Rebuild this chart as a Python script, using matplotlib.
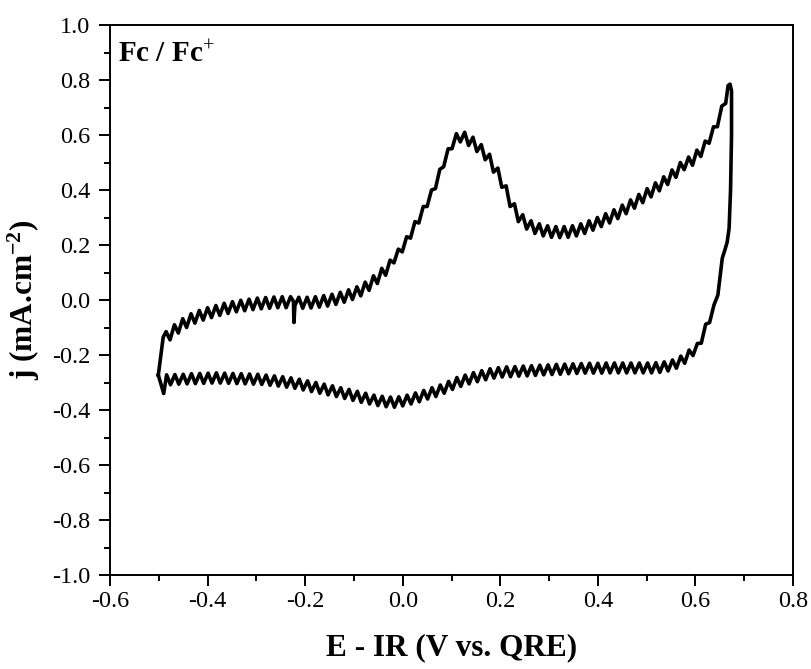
import numpy as np
import matplotlib
matplotlib.use("Agg")
import matplotlib.pyplot as plt
from matplotlib.ticker import MultipleLocator

# ---------------- STYLE ----------------
plt.rcParams['font.family'] = ['Liberation Serif', 'DejaVu Serif']
plt.rcParams['mathtext.fontset'] = 'custom'
plt.rcParams['mathtext.rm'] = 'Liberation Serif'
plt.rcParams['mathtext.bf'] = 'Liberation Serif:bold'
plt.rcParams['mathtext.it'] = 'Liberation Serif:italic'
plt.rcParams['axes.unicode_minus'] = False

# ---------------- DATA (read off the CV, potential in mV, j in mA/cm2) ----------------
# anodic sweep: left turn -> oxidation peak -> right vertex
upper_mv = [
    -501, -491, -485, -477, -468, -460, -451, -443, -434, -426,
    -417, -409, -400, -392, -383, -375, -366, -358, -349, -341,
    -332, -324, -315, -307, -298, -290, -281, -273, -264, -256,
    -247, -239, -230, -224, -223, -221, -213, -205, -196, -188,
    -179, -171, -162, -154, -145, -137, -128, -120, -111, -103,
    -94, -86, -77, -69, -60, -52, -43, -35, -26, -18,
    -9, -1, 8, 16, 25, 33, 42, 50, 59, 67,
    76, 84, 93, 101, 110, 118, 127, 135, 144, 152,
    161, 169, 178, 186, 195, 203, 212, 220, 229, 237,
    246, 254, 263, 271, 280, 288, 297, 305, 314, 322,
    331, 339, 348, 356, 365, 373, 382, 390, 399, 407,
    416, 424, 433, 441, 450, 458, 467, 475, 484, 492,
    501, 509, 518, 526, 535, 543, 552, 560, 569, 577,
    586, 594, 603, 611, 620, 628, 637, 645, 654, 662,
    667, 671, 674, 674, 672, 669, 665, 660,
]
upper_j = [
    -0.273, -0.135, -0.115, -0.145, -0.090, -0.120, -0.068, -0.100, -0.050, -0.084,
    -0.038, -0.073, -0.028, -0.064, -0.020, -0.056, -0.012, -0.049, -0.006, -0.043,
    -0.001, -0.039, 0.003, -0.035, 0.007, -0.032, 0.009, -0.030, 0.011, -0.028,
    0.012, -0.028, 0.012, -0.005, -0.082, -0.020, 0.010, -0.030, 0.010, -0.029,
    0.012, -0.026, 0.016, -0.022, 0.021, -0.016, 0.028, -0.008, 0.037, 0.002,
    0.048, 0.015, 0.065, 0.035, 0.088, 0.060, 0.115, 0.090, 0.145, 0.135,
    0.185, 0.175, 0.230, 0.225, 0.285, 0.280, 0.340, 0.340, 0.400, 0.405,
    0.475, 0.485, 0.550, 0.550, 0.605, 0.575, 0.610, 0.562, 0.592, 0.540,
    0.565, 0.510, 0.530, 0.465, 0.480, 0.410, 0.415, 0.340, 0.350, 0.285,
    0.310, 0.258, 0.288, 0.242, 0.277, 0.233, 0.270, 0.228, 0.267, 0.227,
    0.267, 0.228, 0.270, 0.233, 0.277, 0.242, 0.288, 0.254, 0.300, 0.267,
    0.314, 0.280, 0.328, 0.296, 0.345, 0.314, 0.364, 0.334, 0.384, 0.354,
    0.405, 0.375, 0.426, 0.397, 0.448, 0.420, 0.473, 0.446, 0.500, 0.474,
    0.520, 0.490, 0.545, 0.522, 0.578, 0.570, 0.630, 0.630, 0.705, 0.715,
    0.780, 0.785, 0.760, 0.600, 0.400, 0.260, 0.210, 0.180,
]

# cathodic sweep: right vertex -> reduction wave -> back to left turn
lower_mv = [
    655, 646, 638, 629, 621, 612, 604, 595, 587, 578,
    570, 561, 553, 544, 536, 527, 519, 510, 502, 493,
    485, 476, 468, 459, 451, 442, 434, 425, 417, 408,
    400, 391, 383, 374, 366, 357, 349, 340, 332, 323,
    315, 306, 298, 289, 281, 272, 264, 255, 247, 238,
    230, 221, 213, 204, 196, 187, 179, 170, 162, 153,
    145, 136, 128, 119, 111, 102, 94, 85, 77, 68,
    60, 51, 43, 34, 26, 17, 9, 0, -8, -17,
    -25, -34, -42, -51, -59, -68, -76, -85, -93, -102,
    -110, -119, -127, -136, -144, -153, -161, -170, -178, -187,
    -195, -204, -212, -221, -229, -238, -246, -255, -263, -272,
    -280, -289, -297, -306, -314, -323, -331, -340, -348, -357,
    -365, -374, -382, -391, -399, -408, -416, -425, -433, -442,
    -450, -459, -467, -476, -484, -490, -501,
]
lower_j = [
    0.152, 0.018, -0.018, -0.082, -0.088, -0.157, -0.158, -0.202, -0.182, -0.230,
    -0.204, -0.248, -0.218, -0.258, -0.225, -0.263, -0.228, -0.265, -0.229, -0.265,
    -0.229, -0.265, -0.229, -0.265, -0.229, -0.265, -0.229, -0.265, -0.229, -0.266,
    -0.230, -0.266, -0.230, -0.266, -0.231, -0.267, -0.232, -0.268, -0.233, -0.270,
    -0.234, -0.271, -0.236, -0.272, -0.237, -0.274, -0.239, -0.276, -0.240, -0.277,
    -0.242, -0.279, -0.243, -0.280, -0.246, -0.284, -0.250, -0.290, -0.257, -0.297,
    -0.264, -0.305, -0.273, -0.314, -0.282, -0.325, -0.296, -0.339, -0.309, -0.351,
    -0.319, -0.360, -0.329, -0.370, -0.338, -0.378, -0.346, -0.385, -0.352, -0.390,
    -0.353, -0.388, -0.350, -0.384, -0.346, -0.378, -0.339, -0.372, -0.332, -0.365,
    -0.325, -0.358, -0.319, -0.351, -0.312, -0.345, -0.306, -0.339, -0.300, -0.333,
    -0.294, -0.327, -0.288, -0.321, -0.283, -0.317, -0.279, -0.313, -0.276, -0.310,
    -0.273, -0.307, -0.270, -0.306, -0.269, -0.305, -0.268, -0.304, -0.267, -0.303,
    -0.266, -0.302, -0.265, -0.302, -0.266, -0.303, -0.267, -0.304, -0.268, -0.305,
    -0.270, -0.306, -0.271, -0.308, -0.272, -0.340, -0.273,
]

x_ticks = [-0.6, -0.4, -0.2, 0.0, 0.2, 0.4, 0.6, 0.8]
y_ticks = [-1.0, -0.8, -0.6, -0.4, -0.2, 0.0, 0.2, 0.4, 0.6, 0.8, 1.0]

# ---------------- PLOT ----------------
E = np.array(upper_mv + lower_mv) / 1000.0
j = np.array(upper_j + lower_j)

fig = plt.figure(figsize=(8.12, 6.69), dpi=100)
ax = fig.add_axes([0.1355, 0.1405, 0.8411, 0.8221])

ax.plot(E, j, color='black', lw=2.6, solid_joinstyle='round')

ax.set_xlim(-0.6, 0.8)
ax.set_ylim(-1.0, 1.0)
ax.set_xticks(x_ticks)
ax.set_yticks(y_ticks)
ax.set_xticklabels([f"{t:.1f}" for t in x_ticks])
ax.set_yticklabels([f"{t:.1f}" for t in y_ticks])
ax.xaxis.set_minor_locator(MultipleLocator(0.1))
ax.yaxis.set_minor_locator(MultipleLocator(0.1))
ax.tick_params(which='major', direction='out', length=8, width=1.4, labelsize=17.5)
ax.tick_params(axis='y', which='major', pad=6)
ax.tick_params(which='minor', direction='out', length=4, width=1.4)
for sp in ax.spines.values():
    sp.set_linewidth(1.4)

ax.set_xlabel('E - IR (V vs. QRE)', fontsize=22.5, fontweight='bold', labelpad=15)
ax.set_ylabel(r'j (mA.cm$^{\mathbf{-2}}$)', fontsize=22.5, fontweight='bold', labelpad=7)

ax.text(0.012, 0.971, r'Fc / Fc$^{+}$', transform=ax.transAxes,
        fontsize=21, fontweight='bold', va='top', ha='left')

fig.savefig('out.png', dpi=100)
